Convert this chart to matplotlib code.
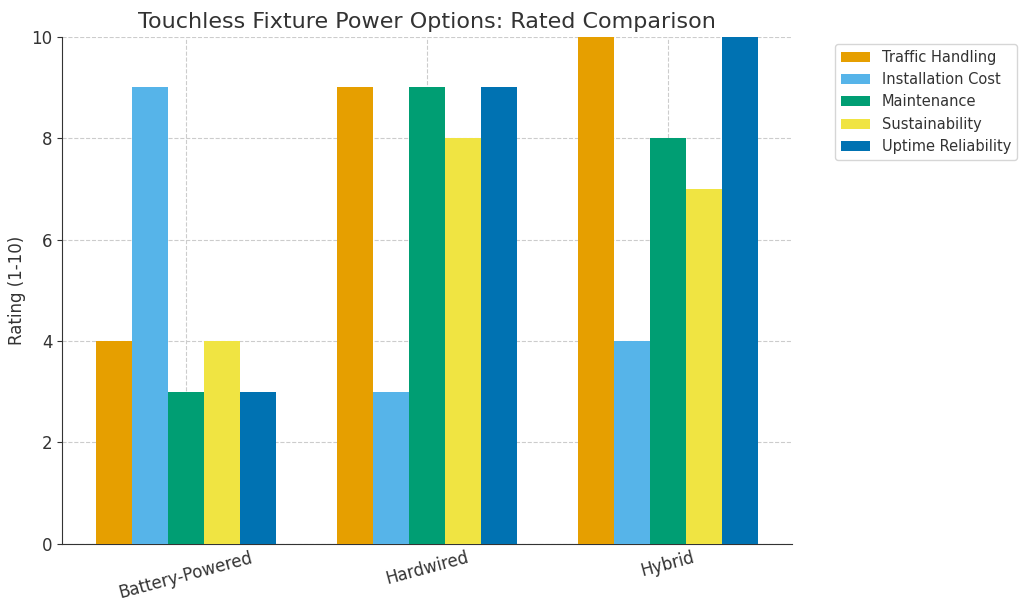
import numpy as np
import matplotlib.pyplot as plt

# Datos
categorias = ['Battery-Powered', 'Hardwired', 'Hybrid']
series = ['Traffic Handling', 'Installation Cost', 'Maintenance', 'Sustainability', 'Uptime Reliability']
traffic = [4, 9, 10]
install = [9, 3, 4]
maint = [3, 9, 8]
sustain = [4, 8, 7]
uptime = [3, 9, 10]
valores = [traffic, install, maint, sustain, uptime]
colores = ['#E69F00', '#56B4E9', '#009E73', '#F0E442', '#0072B2']

plt.rcParams['text.color'] = '#333333'
plt.rcParams['axes.labelcolor'] = '#333333'
plt.rcParams['xtick.color'] = '#333333'
plt.rcParams['ytick.color'] = '#333333'

x = np.arange(len(categorias))
ancho = 0.15

fig, ax = plt.subplots(figsize=(10.24, 6.13), dpi=100)
for i, (nombre, vals) in enumerate(zip(series, valores)):
    ax.bar(x + (i - 2) * ancho, vals, ancho, label=nombre, color=colores[i], zorder=3)

ax.set_xticks(x)
ax.set_xticklabels(categorias, rotation=15, fontsize=12)
ax.tick_params(axis='y', labelsize=12)
ax.tick_params(axis='x', direction='in')
ax.set_ylim(0, 10)
ax.set_ylabel('Rating (1-10)', fontsize=12)
ax.set_title('Touchless Fixture Power Options: Rated Comparison', fontsize=16)
ax.grid(True, linestyle='--', color='#cccccc', linewidth=0.8, zorder=0)
ax.spines['top'].set_visible(False)
ax.spines['right'].set_visible(False)
for s in ['left', 'bottom']:
    ax.spines[s].set_color('#333333')
ax.legend(loc='upper left', bbox_to_anchor=(1.05, 1.0), fontsize=10.5)

plt.subplots_adjust(left=0.061, right=0.773, top=0.94, bottom=0.113)
plt.savefig('out.png')
